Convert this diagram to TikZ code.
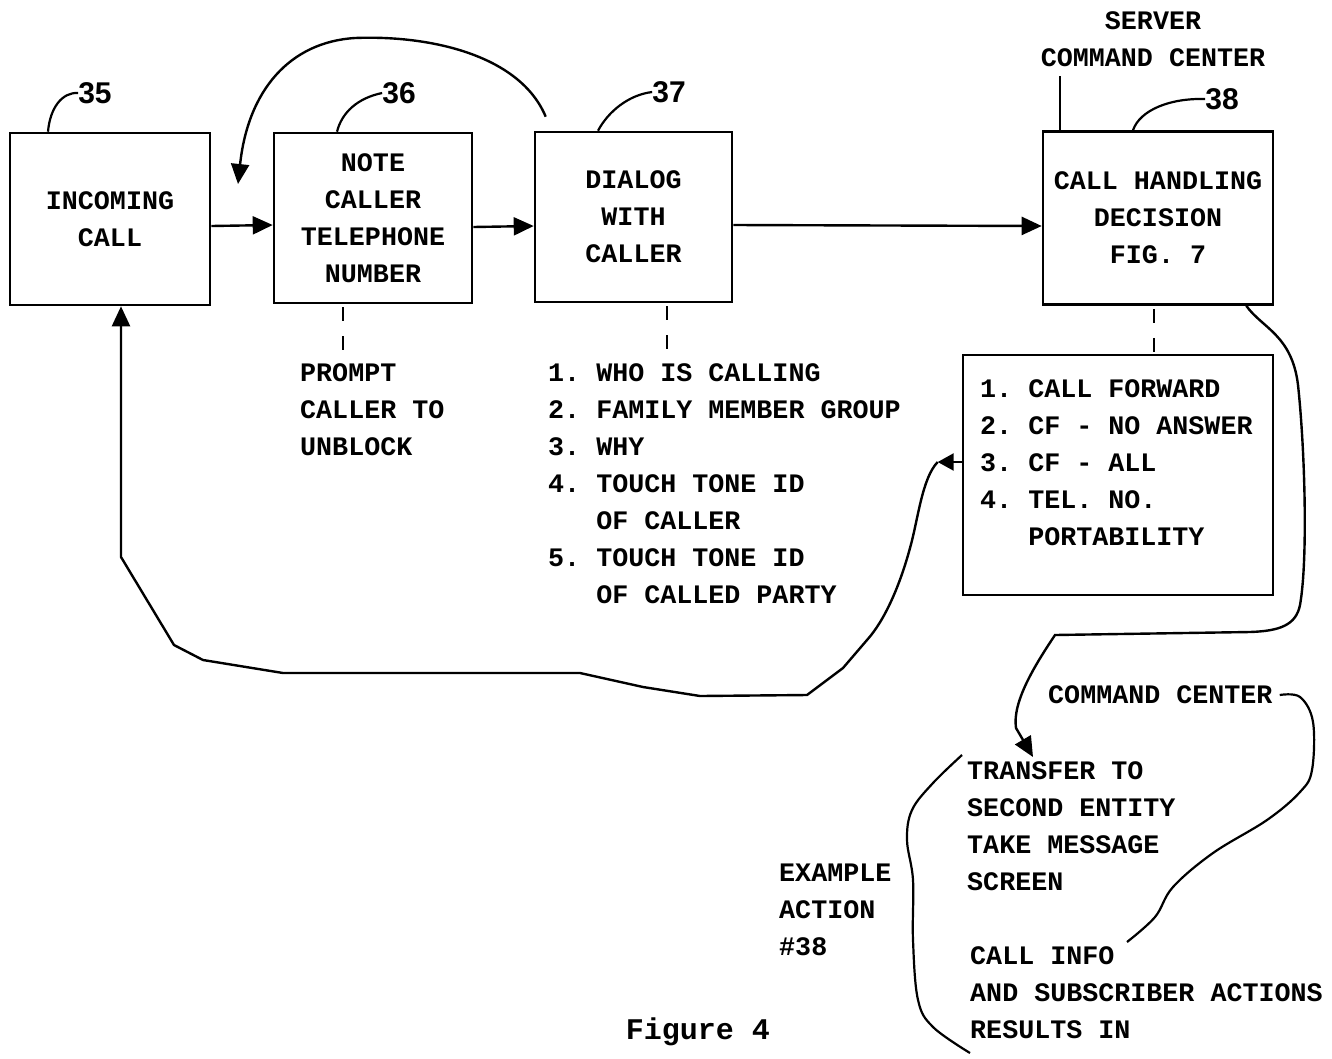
\documentclass[tikz,border=0pt]{standalone}
\usepackage{fontspec}
\setmainfont{Liberation Mono}
\newfontfamily\numfont{Liberation Sans}
\usetikzlibrary{arrows.meta}
\frenchspacing
\begin{document}
\begin{tikzpicture}[x=1pt,y=-1pt,
  box/.style={draw, line width=2.6pt, inner sep=0pt, align=center, font=\bfseries\fontsize{26.7}{37}\selectfont},
  txt/.style={inner sep=0pt, align=left, anchor=north west, font=\bfseries\fontsize{26.7}{37}\selectfont},
  refnum/.style={font=\numfont\bfseries\fontsize{30}{30}\selectfont, inner sep=0pt},
  ln/.style={line width=2.2pt},
  arr/.style={line width=2.4pt, -{Triangle[length=20pt,width=18pt]}},
  dsh/.style={line width=2.2pt, dash pattern=on 14pt off 15pt},
]
\fill[white] (0,0) rectangle (1332,1058);
\useasboundingbox (0,0) rectangle (1332,1058);

% main boxes
\node[box, minimum width=200pt, minimum height=172pt] (b35) at (110,219) {INCOMING\\CALL};
\node[box, minimum width=198pt, minimum height=170pt] (b36) at (373,218) {NOTE\\CALLER\\TELEPHONE\\NUMBER};
\node[box, minimum width=197pt, minimum height=170pt] (b37) at (633.5,217) {DIALOG\\WITH\\CALLER};
\node[box, minimum width=230pt, minimum height=173pt] (b38) at (1158,218) {CALL HANDLING\\DECISION\\FIG. 7};
\node[draw, line width=2.6pt, minimum width=310pt, minimum height=240pt, inner sep=0pt] (lst) at (1118,475) {};

% reference numbers and leaders
\node[refnum] (n35) at (95,93) {35};
\node[refnum] (n36) at (399,93) {36};
\node[refnum] (n37) at (669,92) {37};
\node[refnum] (n38) at (1222,99) {38};
\draw[ln] ([xshift=-62pt]b35.north) .. controls (50,108) and (62,92) .. (n35.west);
\draw[ln] ([xshift=-36pt]b36.north) .. controls (342,112) and (358,98) .. (n36.west);
\draw[ln] ([xshift=-35.5pt]b37.north) .. controls (608,112) and (628,95) .. (n37.west);
\draw[ln] ([xshift=-25pt]b38.north) .. controls (1140,110) and (1170,98) .. (n38.west);

% server label
\node[txt, anchor=north, align=center] (srv) at (1153,11) {SERVER\\COMMAND CENTER};
\coordinate (sv) at (1060,76);
\draw[ln] (sv) -- (sv |- b38.north);

% flow arrows
\draw[arr] ([yshift=-7pt]b35.east) -- ([yshift=-7pt]b36.west);
\draw[arr] ([yshift=-9pt]b36.east) -- ([yshift=-9pt]b37.west);
\draw[arr] ([yshift=-8pt]b37.east) -- ([yshift=-8pt]b38.west);

% loop arc from 37 back between 35 and 36
\coordinate (arcS) at ([shift={(12pt,14pt)}]b37.north west);
\coordinate (arcE) at (238,184);
\draw[arr] (arcS) .. controls (520,55) and (430,35) .. (355,38) .. controls (290,42) and (248,90) .. (arcE);

% dashed ties
\draw[dsh] ([xshift=-30pt,yshift=-3pt]b36.south) -- ++(0,44);
\draw[dsh] ([xshift=33.5pt,yshift=-3pt]b37.south) -- ++(0,44);
\draw[dsh] ([xshift=-4pt,yshift=-3pt]b38.south) -- ([xshift=-4pt]b38.south |- lst.north);

% texts under boxes
\node[txt] (prompt) at (300,363) {PROMPT\\CALLER TO\\UNBLOCK};
\node[txt] (dlg) at (548,363) {1. WHO IS CALLING\\2. FAMILY MEMBER GROUP\\3. WHY\\4. TOUCH TONE ID\\\phantom{4.\ }OF CALLER\\5. TOUCH TONE ID\\\phantom{5.\ }OF CALLED PARTY};
\node[txt] (cf) at (980,379) {1. CALL FORWARD\\2. CF - NO ANSWER\\3. CF - ALL\\4. TEL. NO.\\\phantom{4.\ }PORTABILITY};

% return path to incoming call
\draw[line width=2.4pt, -{Triangle[length=16pt,width=17pt]}] ([yshift=13pt]lst.west) -- ++(-24,0) coordinate (r0);
\draw[arr] (r0) .. controls (922,478) and (918,520) .. (910,548)
  .. controls (900,585) and (885,620) .. (867,640)
  -- (843,668) -- (807,695) -- (700,696) -- (643,687) -- (580,673) -- (283,673)
  -- (203,660) -- (174,645) -- (121,557) -- ([xshift=11pt]b35.south);

% right curve from decision box down to actions
\coordinate (rc0) at ([xshift=-28pt]b38.south east);
\coordinate (rc1) at (1033,757);
\draw[arr] (rc0) .. controls (1262,328) and (1292,335) .. (1298,385)
  .. controls (1305,450) and (1308,560) .. (1300,605)
  .. controls (1296,625) and (1280,631) .. (1250,632)
  -- (1055,635) .. controls (1035,665) and (1012,702) .. (1016,728) -- (rc1);

% command center
\node[txt, anchor=west] (cc) at (1048,695) {COMMAND CENTER};
\coordinate (cc1) at (1127,942);
\draw[ln] plot[smooth, tension=0.6] coordinates {([xshift=7pt]cc.east) (1300,697) (1313,722) (1312,770) (1300,792) (1267,820) (1213,853) (1173,887) (1155,917) (cc1)};

% actions
\node[txt] (trans) at (967,761) {TRANSFER TO\\SECOND ENTITY\\TAKE MESSAGE\\SCREEN};
\node[txt] (info) at (970,946) {CALL INFO\\AND SUBSCRIBER ACTIONS\\RESULTS IN};
\node[txt] (ex) at (779,864) {EXAMPLE\\ACTION\\\#38};
\draw[ln] plot[smooth, tension=0.6] coordinates {(962,755) (933,783) (912,810) (907,840) (913,880) (913,940) (918,1000) (933,1027) (970,1053)};

% caption
\node[anchor=base, inner sep=0pt, font=\bfseries\fontsize{30}{30}\selectfont] (fig) at (698,1039) {Figure 4};
\end{tikzpicture}
\end{document}
